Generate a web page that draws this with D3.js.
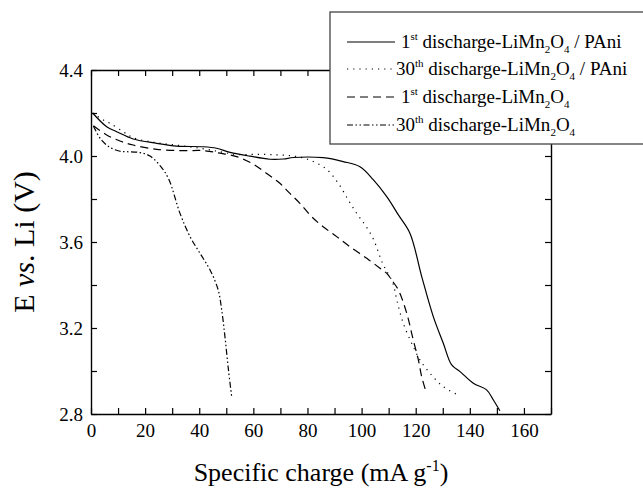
<!DOCTYPE html>
<html><head><meta charset="utf-8">
<script src="https://cdn.jsdelivr.net/npm/d3@7"></script>
<style>html,body{margin:0;padding:0;background:#fff;}svg{display:block;font-family:"Liberation Serif","Times New Roman",serif;}</style>
</head><body>
<svg id="c" width="643" height="488"></svg>
<script>
// Data (specific charge mA/g, potential V)
const pani1st = [[0.6,4.20],[5.8,4.136],[9.5,4.113],[15.6,4.079],[24.3,4.059],[31.7,4.046],[41.5,4.043],[46.4,4.036],[51.4,4.017],[58.8,3.999],[66.1,3.985],[71.1,3.986],[74.8,3.993],[85.8,3.992],[93.2,3.974],[99.4,3.95],[104.3,3.89],[109.3,3.811],[113.6,3.726],[117.9,3.64],[122.2,3.44],[126.5,3.253],[130.2,3.129],[133.3,3.028],[136.4,2.997],[141.3,2.943],[146.2,2.912],[148.7,2.865],[151.1,2.815]];
const pani30th = [[0.6,4.20],[4.6,4.167],[7,4.152],[11.9,4.113],[15.6,4.085],[24,4.062],[32,4.05],[40.3,4.036],[47.7,4.02],[53.8,4.007],[61.2,4.008],[68.6,4.005],[74.8,4.0],[80.9,3.981],[87.1,3.938],[91.4,3.873],[95.1,3.795],[98.2,3.733],[101.3,3.679],[104.3,3.615],[107.8,3.50],[111.5,3.41],[113.2,3.32],[115.4,3.222],[119.1,3.113],[121.6,3.051],[125.3,2.989],[130.2,2.927],[135.7,2.888]];
const lmo1st = [[0.9,4.141],[5.8,4.098],[10.7,4.07],[15.6,4.051],[24.3,4.031],[34.1,4.025],[41.5,4.025],[47.7,4.013],[53.8,3.997],[59.4,3.966],[64.9,3.919],[69.8,3.873],[73.5,3.826],[77.2,3.78],[81.5,3.718],[85.8,3.671],[90.8,3.625],[95.7,3.578],[101.9,3.524],[106.8,3.478],[109.3,3.454],[111.3,3.42],[113.6,3.377],[116.7,3.268],[119.1,3.144],[121,3.051],[122.2,2.974],[124,2.896]];
const lmo30th = [[0.9,4.14],[3.5,4.08],[7,4.04],[10.7,4.022],[13.2,4.02],[18.1,4.016],[21.8,4.0],[25.5,3.955],[28.6,3.896],[32.9,3.733],[36.6,3.625],[40.3,3.547],[44,3.47],[47,3.377],[48.3,3.284],[49.5,3.16],[50.8,3.005],[52,2.88]];
const seriesNames = [
  {ord:"1", sup:"st", tail:" / PAni"},
  {ord:"30", sup:"th", tail:" / PAni"},
  {ord:"1", sup:"st", tail:""},
  {ord:"30", sup:"th", tail:""}
];
const seriesData = [pani1st, pani30th, lmo1st, lmo30th];
const dashes = [null, "1.2,5", "8,5", "6,2.5,1.5,2.5,1.5,2.5"];
const xTicks = d3.range(0, 171, 10);
const yTicks = [2.8,3.0,3.2,3.4,3.6,3.8,4.0,4.2,4.4];
const xLabels = [0,20,40,60,80,100,120,140,160];
const yLabels = [2.8,3.2,3.6,4.0,4.4];

const svg = d3.select("#c");
const L=91, R=551, T=70, B=414;
const x = d3.scaleLinear().domain([0,170]).range([L,R]);
const y = d3.scaleLinear().domain([2.8,4.4]).range([B,T]);

const line = d3.line().x(d=>x(d[0])).y(d=>y(d[1])).curve(d3.curveCatmullRom.alpha(0.5));
seriesData.forEach((s,i)=>{
  svg.append("path").attr("d",line(s)).attr("fill","none").attr("stroke","#000")
    .attr("stroke-width",1.2).attr("stroke-dasharray",dashes[i]);
});

// Axes
const fmtX = d => xLabels.includes(d) ? String(d) : "";
const fmtY = d => yLabels.some(v=>Math.abs(v-d)<1e-6) ? d.toFixed(1) : "";
const gB = svg.append("g").attr("transform",`translate(0,${B})`)
  .call(d3.axisBottom(x).tickValues(xTicks).tickSizeInner(-6).tickSizeOuter(0).tickPadding(10).tickFormat(fmtX));
const gT = svg.append("g").attr("transform",`translate(0,${T})`)
  .call(d3.axisTop(x).tickValues(xTicks).tickSizeInner(-6).tickSizeOuter(0).tickFormat(""));
const gL = svg.append("g").attr("transform",`translate(${L},0)`)
  .call(d3.axisLeft(y).tickValues(yTicks).tickSizeInner(-6).tickSizeOuter(0).tickPadding(8).tickFormat(fmtY));
const gR = svg.append("g").attr("transform",`translate(${R},0)`)
  .call(d3.axisRight(y).tickValues(yTicks).tickSizeInner(-6).tickSizeOuter(0).tickFormat(""));
[gB,gT,gL,gR].forEach(g=>{
  g.selectAll(".domain").attr("stroke","#000").attr("stroke-width",1.4);
  g.selectAll(".tick line").attr("stroke","#000").attr("stroke-width",1.2);
  g.selectAll("text").attr("font-family","Liberation Serif").attr("font-size",19).attr("fill","#000");
});

// Axis titles
const xt = svg.append("text").attr("x",(L+R)/2).attr("y",481).attr("text-anchor","middle")
  .attr("font-size",26).attr("font-family","Liberation Serif");
xt.append("tspan").text("Specific charge (mA g");
xt.append("tspan").attr("font-size",16).attr("dy",-10).text("-1");
xt.append("tspan").attr("dy",10).text(")");

const yt = svg.append("text").attr("transform",`translate(34,${(T+B)/2}) rotate(-90)`)
  .attr("text-anchor","middle").attr("font-size",30).attr("font-family","Liberation Serif");
yt.append("tspan").text("E ");
yt.append("tspan").attr("font-style","italic").text("vs");
yt.append("tspan").text(". Li (V)");

// Legend
svg.append("rect").attr("x",330).attr("y",12).attr("width",330).attr("height",132)
  .attr("fill","#fff").attr("stroke","#444").attr("stroke-width",1.3);
const ly = [42,69,97,125];
seriesNames.forEach((n,i)=>{
  svg.append("line").attr("x1",347).attr("x2",395).attr("y1",ly[i]).attr("y2",ly[i])
    .attr("stroke","#000").attr("stroke-width",1.2).attr("stroke-dasharray",dashes[i]);
  const t = svg.append("text").attr("x", n.ord==="1"?401:396).attr("y",ly[i]+6)
    .attr("font-size",19).attr("font-family","Liberation Serif");
  t.append("tspan").text(n.ord);
  t.append("tspan").attr("font-size",11).attr("dy",-8).text(n.sup);
  t.append("tspan").attr("dy",8).text(" discharge-LiMn");
  t.append("tspan").attr("font-size",11).attr("dy",5).text("2");
  t.append("tspan").attr("dy",-5).text("O");
  t.append("tspan").attr("font-size",11).attr("dy",5).text("4");
  t.append("tspan").attr("dy",-5).text(n.tail);
});
</script>
</body></html>
